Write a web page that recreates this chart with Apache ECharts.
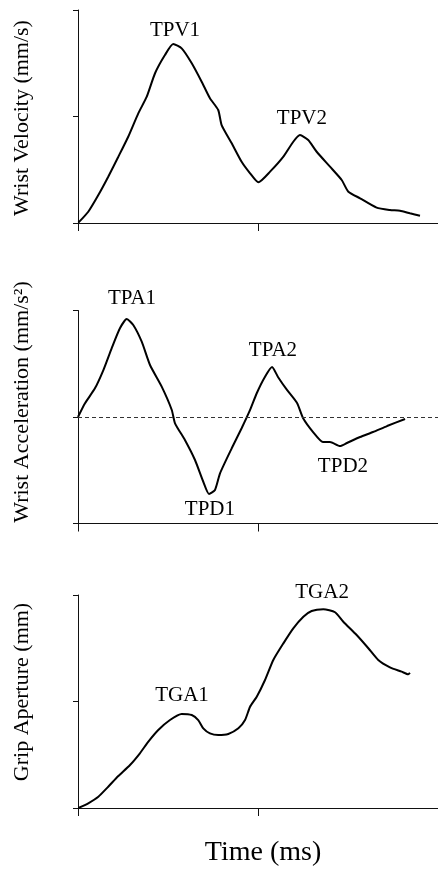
<!DOCTYPE html>
<html>
<head>
<meta charset="utf-8">
<script src="https://cdn.jsdelivr.net/npm/echarts@6/dist/echarts.min.js"></script>
<style>html,body{margin:0;padding:0;background:#fff}#c{width:438px;height:870px}</style>
</head>
<body>
<div id="c"></div>
<script>
// ---- Data (time in arbitrary units, 0..2; values in tick units) ----
const velocity = [[0.002,0.003],[0.057,0.106],[0.113,0.263],[0.168,0.435],[0.224,0.622],[0.279,0.81],[0.335,1.03],[0.382,1.186],[0.428,1.406],[0.483,1.577],[0.529,1.681],[0.576,1.64],[0.632,1.5],[0.687,1.327],[0.733,1.171],[0.779,1.061],[0.798,0.92],[0.854,0.748],[0.909,0.575],[0.956,0.467],[1.002,0.382],[1.067,0.482],[1.141,0.623],[1.196,0.763],[1.233,0.826],[1.279,0.779],[1.326,0.669],[1.4,0.529],[1.465,0.404],[1.502,0.294],[1.567,0.232],[1.659,0.144],[1.733,0.122],[1.789,0.115],[1.844,0.091],[1.9,0.069]];
const acceleration = [[0,0],[0.039,0.129],[0.094,0.269],[0.141,0.441],[0.187,0.645],[0.233,0.833],[0.271,0.92],[0.307,0.864],[0.354,0.707],[0.4,0.488],[0.465,0.285],[0.521,0.066],[0.539,-0.059],[0.594,-0.216],[0.65,-0.404],[0.696,-0.608],[0.728,-0.723],[0.761,-0.685],[0.789,-0.529],[0.854,-0.294],[0.909,-0.106],[0.956,0.066],[0.993,0.223],[1.039,0.378],[1.078,0.469],[1.111,0.376],[1.161,0.254],[1.217,0.131],[1.25,-0.009],[1.306,-0.141],[1.361,-0.235],[1.4,-0.235],[1.456,-0.272],[1.494,-0.244],[1.567,-0.188],[1.639,-0.141],[1.717,-0.085],[1.817,-0.019]];
const aperture = [[0.002,0],[0.057,0.044],[0.113,0.106],[0.168,0.2],[0.224,0.3],[0.289,0.404],[0.344,0.514],[0.391,0.623],[0.446,0.732],[0.511,0.826],[0.576,0.883],[0.632,0.873],[0.668,0.826],[0.696,0.748],[0.733,0.701],[0.779,0.685],[0.835,0.695],[0.891,0.748],[0.928,0.826],[0.956,0.951],[0.993,1.045],[1.039,1.202],[1.085,1.39],[1.141,1.546],[1.196,1.687],[1.252,1.796],[1.298,1.85],[1.363,1.866],[1.428,1.838],[1.474,1.749],[1.548,1.624],[1.613,1.5],[1.668,1.39],[1.733,1.321],[1.798,1.28],[1.835,1.255],[1.844,1.27]];
const velocityLabels = [{name:'TPV1',value:[0.539,1.81]},{name:'TPV2',value:[1.244,0.986]}];
const accelLabels = [{name:'TPA1',value:[0.30,1.117]},{name:'TPA2',value:[1.083,0.629]},{name:'TPD1',value:[0.733,-0.873]},{name:'TPD2',value:[1.472,-0.469]}];
const apertureLabels = [{name:'TGA1',value:[0.578,1.061]},{name:'TGA2',value:[1.356,2.028]}];
const yTitles = ['Wrist Velocity (mm/s)','Wrist Acceleration (mm/s\u00B2)','Grip Aperture (mm)'];
const xTitle = 'Time (ms)';

const FONT = '"Liberation Serif","DejaVu Serif",serif';
const chart = echarts.init(document.getElementById('c'), null, {renderer:'canvas'});

const grids = [
  {left:78, top:10, width:360, height:213},
  {left:78, top:310.5, width:360, height:213},
  {left:78, top:595, width:360, height:213}
];
const yRanges = [[0,2],[-1,1],[0,2]];

const xAxes = grids.map((g,i)=>({
  type:'value', gridIndex:i, min:0, max:2, interval:1,
  axisLine:{show:true, onZero:false, lineStyle:{color:'#111', width:1}},
  axisTick:{show:true, length:8, inside:false, lineStyle:{color:'#111'}},
  axisLabel:{show:false}, splitLine:{show:false}
}));
const yAxes = grids.map((g,i)=>({
  type:'value', gridIndex:i, min:yRanges[i][0], max:yRanges[i][1], interval:1,
  axisLine:{show:true, onZero:false, lineStyle:{color:'#111', width:1}},
  axisTick:{show:true, length:5, inside:false, lineStyle:{color:'#111'}},
  axisLabel:{show:false}, splitLine:{show:false}
}));

function curve(data, i, extra){
  return Object.assign({
    type:'line', xAxisIndex:i, yAxisIndex:i, data:data, smooth:0.2,
    showSymbol:false, symbol:'none',
    lineStyle:{color:'#000', width:2}, silent:true
  }, extra||{});
}
function labels(data, i){
  return {
    type:'scatter', xAxisIndex:i, yAxisIndex:i, data:data, symbolSize:0, clip:false, silent:true,
    itemStyle:{opacity:1, color:'#000'},
    label:{show:true, position:'inside', formatter:'{b}', color:'#000', opacity:1, fontFamily:FONT, fontSize:21}
  };
}

const graphics = [];
const yCenters = [118, 402, 692];
yTitles.forEach((t,i)=>{
  graphics.push({type:'text', x:22, y:yCenters[i], rotation:Math.PI/2,
    style:{text:t, fill:'#000', font:'22px '+FONT, textAlign:'center', textVerticalAlign:'middle'}});
});
graphics.push({type:'text', x:263, y:853, style:{text:xTitle, fill:'#000', font:'28px '+FONT, textAlign:'center', textVerticalAlign:'middle'}});

chart.setOption({
  animation:false,
  backgroundColor:'#fff',
  grid:grids,
  xAxis:xAxes,
  yAxis:yAxes,
  graphic:graphics,
  series:[
    curve(velocity,0),
    labels(velocityLabels,0),
    curve(acceleration,1,{markLine:{silent:true, symbol:'none', label:{show:false},
      lineStyle:{color:'#333', type:[4,3], width:1}, data:[{yAxis:0}]}}),
    labels(accelLabels,1),
    curve(aperture,2),
    labels(apertureLabels,2)
  ]
});
</script>
</body>
</html>
